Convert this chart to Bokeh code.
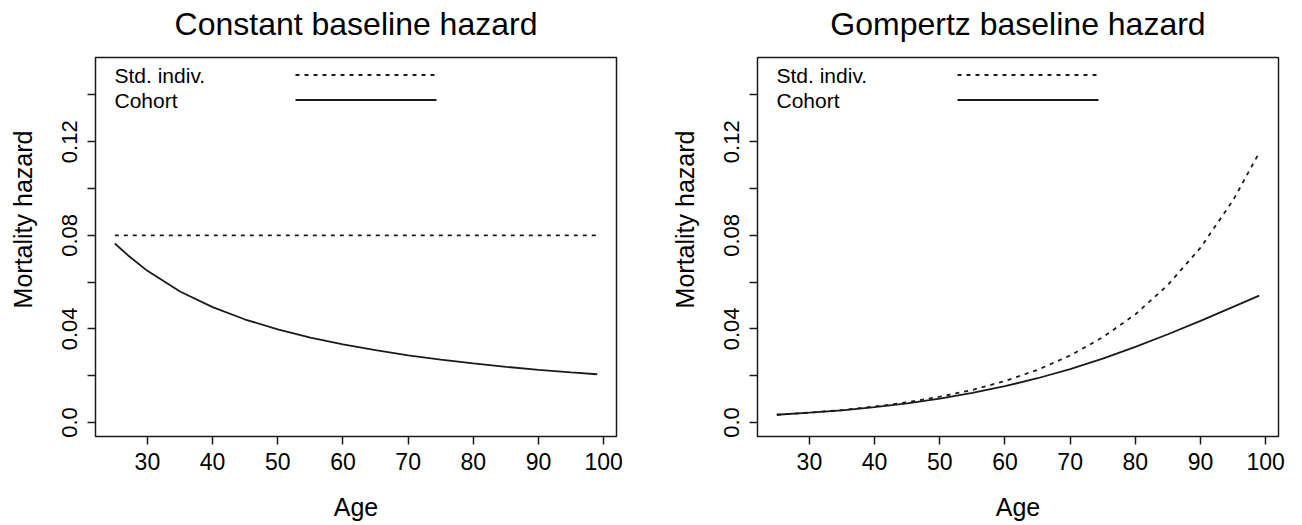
import math
from bokeh.plotting import figure
from bokeh.models import Range1d, FixedTicker, Label, Arrow, BoxAnnotation
from bokeh.layouts import row
from bokeh.embed import file_html
from bokeh.resources import INLINE

# ---- data ----
ages = [25, 27, 30, 35, 40, 45, 50, 55, 60, 65, 70, 75, 80, 85, 90, 95, 99]
const_std = [0.08] * len(ages)
const_cohort = [0.0765, 0.0715, 0.0648, 0.0560, 0.0493, 0.0440, 0.0398, 0.0363,
                0.0334, 0.0309, 0.0287, 0.0269, 0.0253, 0.0238, 0.0225, 0.0214, 0.0206]

g_ages = [25, 30, 35, 40, 45, 50, 55, 60, 65, 70, 75, 80, 85, 90, 95, 99]
gomp_std = [0.0033, 0.0042, 0.0053, 0.0068, 0.0086, 0.0110, 0.0139, 0.0177,
            0.0225, 0.0286, 0.0364, 0.0462, 0.0588, 0.0747, 0.0950, 0.1153]
gomp_cohort = [0.0033, 0.0042, 0.0052, 0.0066, 0.0082, 0.0102, 0.0126, 0.0155,
               0.0189, 0.0228, 0.0273, 0.0323, 0.0377, 0.0434, 0.0494, 0.0542]

x_ticks = [30, 40, 50, 60, 70, 80, 90, 100]
y_major = [0, 0.04, 0.08, 0.12]
y_minor = [0.02, 0.06, 0.10, 0.14]
y_overrides = {0: "0.0"}
titles = ["Constant baseline hazard", "Gompertz baseline hazard"]
legend_labels = ["Std. indiv.", "Cohort"]
x_label = "Age"
y_label = "Mortality hazard"

FONT = "Liberation Sans"
INK = "#1a1a1a"
DASH = "4 5"

# plot box (R-style) geometry
X_LO, X_HI = 22.04, 101.96
Y_LO, Y_HI = -0.006, 0.156
BOX_W = 521       # box width, px
BOX_H = 379       # box height, px
TOP = 57          # space above box (title area), px
PAD = 2           # frame extends PAD px beyond the box so its edges are not clipped
DX = (X_HI - X_LO) / BOX_W
DY = (Y_HI - Y_LO) / BOX_H
FW = BOX_W + 2 * PAD
FH = BOX_H + TOP + PAD


def make_panel(title, xs, std, coh, left, right):
    p = figure(frame_width=FW, frame_height=FH,
               min_border_left=left - PAD, min_border_right=right - PAD,
               min_border_top=0, min_border_bottom=88 - PAD,
               x_range=Range1d(X_LO - PAD * DX, X_HI + PAD * DX),
               y_range=Range1d(Y_LO - PAD * DY, Y_HI + TOP * DY),
               output_backend="svg", toolbar_location=None,
               background_fill_color="white", border_fill_color="white")

    p.grid.visible = False
    p.outline_line_color = None

    # the plot box
    p.add_layout(BoxAnnotation(left=X_LO, right=X_HI, bottom=Y_LO, top=Y_HI,
                               fill_alpha=0, line_color=INK, line_alpha=1.0,
                               line_width=1.5))

    # title (centred 34px above the box)
    p.add_layout(Label(x=PAD + BOX_W / 2, y=PAD + BOX_H + 34,
                       x_units="screen", y_units="screen",
                       text=title, text_font=FONT, text_font_size="32px",
                       text_color="black", text_align="center",
                       text_baseline="middle"))

    xa = p.xaxis[0]
    xa.ticker = FixedTicker(ticks=x_ticks)
    xa.axis_label = x_label
    ya = p.yaxis[0]
    ya.ticker = FixedTicker(ticks=y_major, minor_ticks=y_minor)
    ya.major_label_overrides = y_overrides
    ya.axis_label = y_label
    ya.major_label_orientation = "vertical"

    for ax in (xa, ya):
        ax.axis_line_color = None
        ax.major_tick_in = PAD
        ax.major_tick_out = 8 - PAD
        ax.major_tick_line_color = INK
        ax.major_tick_line_width = 1.5
        ax.minor_tick_in = PAD
        ax.minor_tick_out = 8 - PAD
        ax.minor_tick_line_color = INK
        ax.minor_tick_line_width = 1.5
        ax.major_label_text_font = FONT
        ax.major_label_text_color = "black"
        ax.axis_label_text_font = FONT
        ax.axis_label_text_font_style = "normal"
        ax.axis_label_text_font_size = "25px"
        ax.axis_label_text_color = "black"
    xa.minor_tick_line_color = None
    xa.major_label_text_font_size = "23px"
    xa.major_label_standoff = 8
    xa.axis_label_standoff = 20
    ya.major_label_text_font_size = "22px"
    ya.major_label_standoff = 10
    ya.axis_label_standoff = 23

    p.line(xs, std, line_color=INK, line_width=1.8, line_dash=DASH)
    p.line(xs, coh, line_color=INK, line_width=1.8)

    # legend (R-style: label on the left, line sample to the right)
    for lab, yy, dash in ((legend_labels[0], 361.5, DASH), (legend_labels[1], 336.5, "solid")):
        p.add_layout(Label(x=PAD + 19, y=PAD + yy, x_units="screen", y_units="screen",
                           text=lab, text_font=FONT, text_font_size="21px",
                           text_color="black", text_baseline="middle", text_align="left"))
        p.add_layout(Arrow(start=None, end=None, x_start=PAD + 200, y_start=PAD + yy,
                           x_end=PAD + 341, y_end=PAD + yy,
                           start_units="screen", end_units="screen",
                           line_color=INK, line_width=1.8, line_dash=dash))
    return p


p1 = make_panel(titles[0], ages, const_std, const_cohort, 95, 35)
p2 = make_panel(titles[1], g_ages, gomp_std, gomp_cohort, 106, 24)
layout = row(p1, p2)

open("out.html", "w").write(file_html(layout, INLINE))
